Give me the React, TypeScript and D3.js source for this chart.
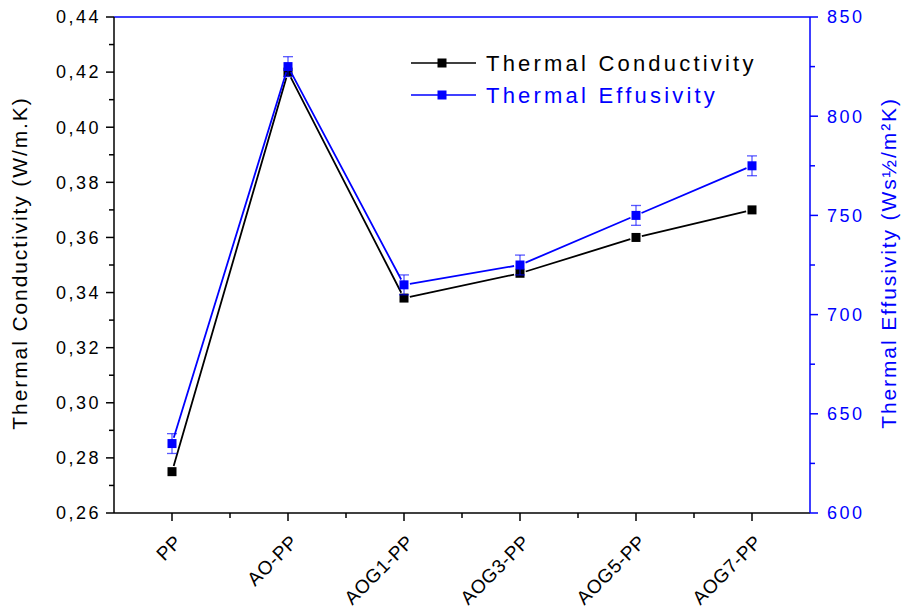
import React from "react";
import * as d3 from "d3";

const categories = ["PP", "AO-PP", "AOG1-PP", "AOG3-PP", "AOG5-PP", "AOG7-PP"];
const conductivity = [0.275, 0.42, 0.338, 0.347, 0.36, 0.37];
const effusivity = [635, 825, 715, 725, 750, 775];
const effusivityErr = [5, 5, 5, 5, 5, 5];
const leftTicks = [0.26, 0.28, 0.3, 0.32, 0.34, 0.36, 0.38, 0.4, 0.42, 0.44];
const rightTicks = [600, 650, 700, 750, 800, 850];

const W = 903, H = 614;
const L = 114, R = 810, T = 17, B = 513;
const BLUE = "#0000ff";
const FONT = "'Liberation Sans', Arial, sans-serif";

function segments(pts: [number, number][], gap: number) {
  const out: string[] = [];
  for (let i = 0; i < pts.length - 1; i++) {
    const [x1, y1] = pts[i];
    const [x2, y2] = pts[i + 1];
    const dx = x2 - x1, dy = y2 - y1;
    const len = Math.hypot(dx, dy);
    const ux = dx / len, uy = dy / len;
    out.push(`M${x1 + ux * gap},${y1 + uy * gap}L${x2 - ux * gap},${y2 - uy * gap}`);
  }
  return out.join("");
}

export default function App() {
  const x = d3.scaleLinear().domain([0.5, 6.5]).range([L, R]);
  const yL = d3.scaleLinear().domain([0.26, 0.44]).range([B, T]);
  const yR = d3.scaleLinear().domain([600, 850]).range([B, T]);

  const cPts: [number, number][] = conductivity.map((v, i) => [x(i + 1), yL(v)]);
  const ePts: [number, number][] = effusivity.map((v, i) => [x(i + 1), yR(v)]);

  const leftMinor = d3.range(0.27, 0.44, 0.02);
  const rightMinor = d3.range(625, 850, 50);
  const xMinor = d3.range(1.5, 6.5, 1);
  const ms = 9;

  return (
    <svg width={W} height={H} style={{ position: "absolute", left: 0, top: 0, background: "#fff" }} fontFamily={FONT}>
      <rect width={W} height={H} fill="#fff" />
      {/* frame */}
      <line x1={L} y1={T} x2={R} y2={T} stroke={BLUE} strokeWidth={1.5} />
      <line x1={L} y1={B} x2={R} y2={B} stroke="#000" strokeWidth={1.5} />
      <line x1={L} y1={T} x2={L} y2={B} stroke="#000" strokeWidth={1.5} />
      <line x1={R} y1={T} x2={R} y2={B} stroke={BLUE} strokeWidth={1.5} />

      {/* left axis */}
      {leftTicks.map((t) => (
        <g key={"l" + t}>
          <line x1={L - 8} x2={L} y1={yL(t)} y2={yL(t)} stroke="#000" strokeWidth={1.5} />
          <text x={L - 13} y={yL(t)} dy="0.35em" textAnchor="end" fontSize={18} letterSpacing={2.5} fill="#000">
            {t.toFixed(2).replace(".", ",")}
          </text>
        </g>
      ))}
      {leftMinor.map((t) => (
        <line key={"lm" + t} x1={L - 5} x2={L} y1={yL(t)} y2={yL(t)} stroke="#000" strokeWidth={1.5} />
      ))}

      {/* right axis */}
      {rightTicks.map((t) => (
        <g key={"r" + t}>
          <line x1={R} x2={R + 8} y1={yR(t)} y2={yR(t)} stroke={BLUE} strokeWidth={1.5} />
          <text x={R + 17} y={yR(t)} dy="0.35em" textAnchor="start" fontSize={18} letterSpacing={2.5} fill={BLUE}>
            {t}
          </text>
        </g>
      ))}
      {rightMinor.map((t) => (
        <line key={"rm" + t} x1={R} x2={R + 5} y1={yR(t)} y2={yR(t)} stroke={BLUE} strokeWidth={1.5} />
      ))}

      {/* bottom axis */}
      {categories.map((c, i) => (
        <g key={c}>
          <line x1={x(i + 1)} x2={x(i + 1)} y1={B} y2={B + 8} stroke="#000" strokeWidth={1.5} />
          <text
            transform={`translate(${x(i + 1) + 11},${B + 30}) rotate(-45)`}
            textAnchor="end"
            fontSize={19}
            letterSpacing={0.6}
            fill="#000"
          >
            {c}
          </text>
        </g>
      ))}
      {xMinor.map((t) => (
        <line key={"xm" + t} x1={x(t)} x2={x(t)} y1={B} y2={B + 5} stroke="#000" strokeWidth={1.5} />
      ))}

      {/* axis titles */}
      <text transform={`translate(27,${(T + B) / 2 - 2}) rotate(-90)`} textAnchor="middle" fontSize={21} letterSpacing={1.9} fill="#000">
        Thermal Conductivity (W/m.K)
      </text>
      <text transform={`translate(896,${(T + B) / 2 - 2}) rotate(-90)`} textAnchor="middle" fontSize={21} letterSpacing={1.9} fill={BLUE}>
        Thermal Effusivity (Ws½/m²K)
      </text>

      {/* conductivity series */}
      <path d={segments(cPts, 6)} fill="none" stroke="#000" strokeWidth={1.8} />
      {cPts.map(([px, py], i) => (
        <rect key={"c" + i} x={px - ms / 2} y={py - ms / 2} width={ms} height={ms} fill="#000" />
      ))}

      {/* effusivity series */}
      <path d={segments(ePts, 6)} fill="none" stroke={BLUE} strokeWidth={1.8} />
      {effusivity.map((v, i) => {
        const px = x(i + 1);
        const y1 = yR(v + effusivityErr[i]);
        const y2 = yR(v - effusivityErr[i]);
        return (
          <g key={"e" + i} stroke={BLUE} strokeOpacity={0.65} strokeWidth={1.3}>
            <line x1={px} x2={px} y1={y1} y2={y2} />
            <line x1={px - 5} x2={px + 5} y1={y1} y2={y1} />
            <line x1={px - 5} x2={px + 5} y1={y2} y2={y2} />
          </g>
        );
      })}
      {ePts.map(([px, py], i) => (
        <rect key={"em" + i} x={px - ms / 2} y={py - ms / 2} width={ms} height={ms} fill={BLUE} />
      ))}

      {/* legend */}
      <line x1={411} x2={476} y1={63} y2={63} stroke="#000" strokeWidth={1.5} />
      <rect x={442 - ms / 2} y={63 - ms / 2} width={ms} height={ms} fill="#000" />
      <text x={486} y={63} dy="0.35em" fontSize={22} letterSpacing={3.2} fill="#000">Thermal Conductivity</text>
      <line x1={411} x2={476} y1={95} y2={95} stroke={BLUE} strokeWidth={1.5} />
      <rect x={442 - ms / 2} y={95 - ms / 2} width={ms} height={ms} fill={BLUE} />
      <text x={486} y={95} dy="0.35em" fontSize={22} letterSpacing={3.2} fill={BLUE}>Thermal Effusivity</text>
    </svg>
  );
}
